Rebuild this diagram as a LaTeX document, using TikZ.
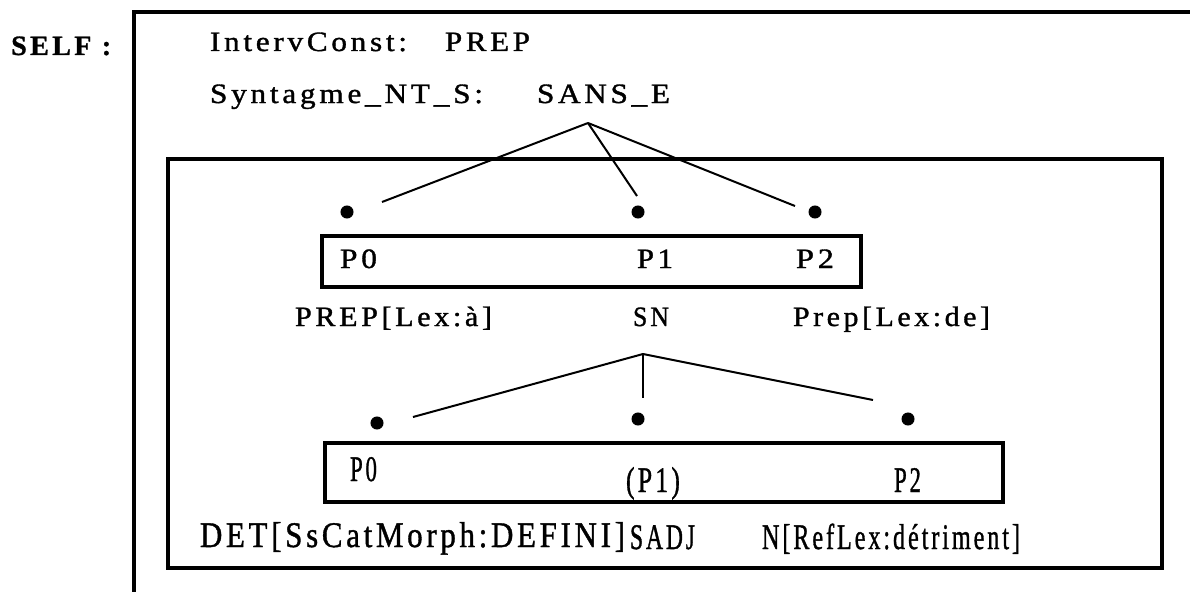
\documentclass[tikz,border=0pt]{standalone}
\usepackage{fontspec}
\usepackage{graphicx}
\newfontfamily\pixfont[LetterSpace=12,FakeBold=1.2]{Liberation Serif}
\newfontfamily\pixbold[LetterSpace=12,FakeBold=1]{Liberation Serif Bold}
% set a text and stretch it horizontally to a given width (in pt)
\newcommand\fitw[2]{\setbox0=\hbox{#2}\pgfmathsetmacro\fitf{#1/\the\wd0}\scalebox{\fitf}[1]{\box0}}
\tikzset{
  txt/.style={anchor=base west, inner sep=0pt, outer sep=0pt, font=\pixfont\fontsize{28}{30}\selectfont},
  tall/.style={anchor=base west, inner sep=0pt, outer sep=0pt, font=\pixfont\fontsize{36}{38}\selectfont},
  frame/.style={line width=4pt},
  boxline/.style={line width=3.5pt},
  branch/.style={line width=2pt},
  dotnode/.style={circle, fill=black, draw=black, line width=1pt, inner sep=0pt, minimum width=12pt, minimum height=12pt},
}
\begin{document}
\begin{tikzpicture}[x=1pt, y=-1pt]
\useasboundingbox (0,0) rectangle (1190,591);

% outer frame (open on the right and at the bottom)
\coordinate (fTR) at (1192,12);
\coordinate (fTL) at (134,12);
\coordinate (fBL) at (134,593);
\draw[frame] (fTR) -- (fTL) -- (fBL);

\node[anchor=base west, inner sep=0pt, font=\pixbold\fontsize{28}{30}\selectfont] (self) at (11,55) {\fitw{100}{SELF :}};

% header attributes
\node[txt] (interv) at (210,51) {\fitw{197}{IntervConst:}};
\node[txt] (prep) at (445,51) {\fitw{85}{PREP}};
\node[txt] (synt) at (210,103) {\fitw{273}{Syntagme\_NT\_S:}};
\node[txt] (sanse) at (537,103) {\fitw{133}{SANS\_E}};

% inner frame
\draw[boxline] (168,159) rectangle (1162,568);

% first level tree
\coordinate (apexA) at (588,123);
\coordinate (aL) at (382,202);
\coordinate (aM) at (637,196);
\coordinate (aR) at (795,206);
\draw[branch] (apexA) -- (aL);
\draw[branch] (apexA) -- (aM);
\draw[branch] (apexA) -- (aR);
\node[dotnode] (dA0) at (347,212) {};
\node[dotnode] (dA1) at (638,212) {};
\node[dotnode] (dA2) at (815,212) {};

\draw[boxline] (322,236) rectangle (861,287);
\node[txt] (pA0) at (340,268) {\fitw{37}{P0}};
\node[txt] (pA1) at (637,268) {\fitw{36}{P1}};
\node[txt] (pA2) at (796,268) {\fitw{38}{P2}};

\node[txt] (lA0) at (295,326) {\fitw{197}{PREP[Lex:à]}};
\node[txt] (lA1) at (633,326) {\fitw{36}{SN}};
\node[txt] (lA2) at (793,326) {\fitw{197}{Prep[Lex:de]}};

% second level tree
\coordinate (apexB) at (643,354);
\coordinate (bL) at (413,417);
\coordinate (bM) at (643,398);
\coordinate (bR) at (873,400);
\draw[branch] (apexB) -- (bL);
\draw[branch] (apexB) -- (bM);
\draw[branch] (apexB) -- (bR);
\node[dotnode] (dB0) at (377,423) {};
\node[dotnode] (dB1) at (638,419) {};
\node[dotnode] (dB2) at (908,419) {};

\draw[boxline] (325,443) rectangle (1003,502);
\node[tall] (pB0) at (350,481) {\fitw{27}{P0}};
\node[tall] (pB1) at (626,492) {\fitw{54}{(P1)}};
\node[tall] (pB2) at (894,492) {\fitw{27}{P2}};

\node[tall] (lB0) at (200,547) {\fitw{425}{DET[SsCatMorph:DEFINI]}};
\node[tall] (lB1) at (630,549) {\fitw{65}{SADJ}};
\node[tall] (lB2) at (762,549) {\fitw{258}{N[RefLex:détriment]}};
\end{tikzpicture}
\end{document}
